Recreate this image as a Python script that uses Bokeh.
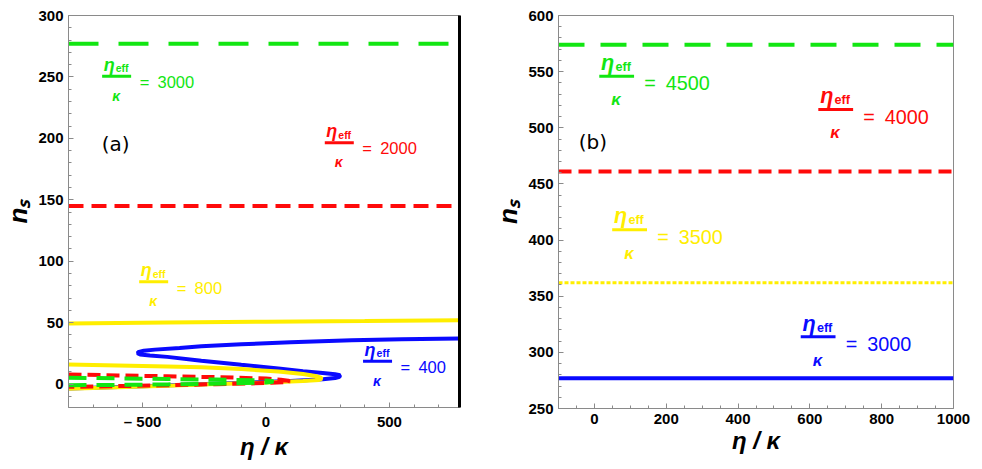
from bokeh.plotting import figure
from bokeh.layouts import row
from bokeh.models import Range1d, FixedTicker, LinearAxis
from bokeh.core.properties import value
from bokeh.embed import file_html
from bokeh.resources import INLINE

GREEN = "#12e612"
RED = "#ff0a0a"
YELLOW = "#ffee00"
BLUE = "#0a0aff"

# ---------------- panel (a) data ----------------
a_xlim = [-800, 784]
a_green_level = 277      # eta_eff/kappa = 3000
a_red_level = 145        # eta_eff/kappa = 2000

# eta_eff/kappa = 400 (S-curve)
a_blue_x = [784, 550, 347, 100, -100, -262, -350, -450, -495, -515, -521, -510, -470, -400,
            -262, -100, 50, 150, 230, 280, 300, 298, 280, 230, 100, -100, -300, -500, -800]
a_blue_y = [37.2, 36.6, 35.8, 34.0, 32.5, 30.8, 29.5, 28.1, 27.2, 26.3, 25.2, 24.2, 23.3, 22.2,
            19.0, 15.7, 12.7, 10.6, 9.0, 8.0, 7.2, 6.0, 5.0, 4.0, 2.6, 1.1, -0.3, -1.7, -3.5]

# eta_eff/kappa = 800
a_yellow_up_x = [-800, -400, 0, 400, 784]
a_yellow_up_y = [49.4, 50.1, 50.8, 51.4, 52.1]
a_yellow_x = [-800, -600, -400, -262, -100, 50, 150, 200, 222, 226, 215, 150, 0, -200, -400, -600, -800]
a_yellow_y = [16.0, 15.2, 14.4, 13.8, 12.3, 10.3, 8.3, 6.6, 5.3, 4.4, 3.4, 2.6, 1.4, 0.2, -1.2, -2.5, -3.7]

# eta_eff/kappa = 2000 (lower fold)
a_red_x = [-800, -600, -400, -200, 0, 60, 90, 96, 85, 0, -200, -400, -600, -800]
a_red_y = [7.9, 7.1, 6.4, 5.7, 4.6, 3.6, 2.8, 2.3, 1.7, 0.9, 0.0, -0.9, -1.6, -2.2]

# eta_eff/kappa = 3000 (lower fold)
a_green_x = [-800, -600, -400, -200, 0, 25, 30, 20, 0, -200, -400, -600, -800]
a_green_y = [5.2, 4.7, 4.2, 3.7, 3.0, 2.5, 2.1, 1.7, 1.4, 0.4, -0.2, -0.6, -0.9]

a_label_vals = ["3000", "2000", "800", "400"]
a_label_cols = [GREEN, RED, YELLOW, BLUE]
a_label_x = [-605, 297, -455, 452]
a_label_y = [250.6, 196.5, 83.3, 18.7]

# ---------------- panel (b) data ----------------
b_xlim = [-100, 1000]
b_levels = [574, 461, 362, 277]          # 4500, 4000, 3500, 3000
b_label_vals = ["4500", "4000", "3500", "3000"]
b_label_cols = [GREEN, RED, YELLOW, BLUE]
b_label_x = [62, 672, 98, 623]
b_label_y = [546, 516.2, 409.3, 313.8]

FONT = value("Liberation Sans")


def style(p):
    p.xgrid.visible = False
    p.ygrid.visible = False
    p.outline_line_color = "#8a8a8a"
    p.background_fill_color = "white"
    p.border_fill_color = "white"
    for ax in (p.xaxis[0], p.yaxis[0]):
        ax.axis_line_color = "#8a8a8a"
        ax.major_tick_line_color = "#8a8a8a"
        ax.minor_tick_line_color = "#8a8a8a"
        ax.major_tick_in = 5
        ax.major_tick_out = 0
        ax.minor_tick_in = 3
        ax.minor_tick_out = 0
        ax.major_label_text_font = "Liberation Sans"
        ax.major_label_text_font_style = "bold"
        ax.major_label_text_font_size = "15px"
        ax.major_label_text_color = "black"
        ax.axis_label_text_font = "Liberation Sans"
        ax.axis_label_text_font_style = "bold italic"
        ax.axis_label_text_color = "black"
    p.xaxis[0].major_label_standoff = 5
    p.yaxis[0].major_label_standoff = 5
    p.xaxis[0].axis_label = "η / κ"
    p.xaxis[0].axis_label_text_font_size = "24px"
    p.xaxis[0].axis_label_standoff = 0
    p.yaxis[0].axis_label = "nₛ"
    p.yaxis[0].axis_label_text_font_size = "26px"
    p.yaxis[0].axis_label_standoff = 2


def frac_labels(p, xs, ys, vals, cols, s):
    n = len(xs)
    p.rect(x=xs, y=ys, width=29 * s, height=3, width_units="screen", height_units="screen",
           fill_color=cols, line_color=None)
    p.text(x=xs, y=ys, text=["η"] * n, x_offset=-2 * s, y_offset=-11.5 * s,
           text_align="right", text_baseline="middle", text_font=FONT,
           text_font_style="bold italic", text_font_size=f"{18 * s:.1f}px", text_color=cols)
    p.text(x=xs, y=ys, text=["eff"] * n, x_offset=-1 * s, y_offset=-7.8 * s,
           text_align="left", text_baseline="middle", text_font=FONT,
           text_font_style="bold", text_font_size=f"{10.5 * s:.1f}px", text_color=cols)
    p.text(x=xs, y=ys, text=["κ"] * n, x_offset=-0.5 * s, y_offset=19.5 * s,
           text_align="center", text_baseline="middle", text_font=FONT,
           text_font_style="bold italic", text_font_size=f"{14 * s:.1f}px", text_color=cols)
    p.text(x=xs, y=ys, text=["=\u2002" + v for v in vals], x_offset=23 * s, y_offset=5.8 * s,
           text_align="left", text_baseline="middle", text_font=FONT,
           text_font_style="normal", text_font_size=f"{16.5 * s:.1f}px", text_color=cols)


# ---------------- panel (a) ----------------
pa = figure(x_range=Range1d(-800, 784), y_range=Range1d(-19, 300),
            frame_width=391, frame_height=392,
            min_border_left=68, min_border_right=31, min_border_top=15, min_border_bottom=62,
            output_backend="svg", toolbar_location=None)
style(pa)
pa.xaxis[0].ticker = FixedTicker(ticks=[-500, 0, 500],
                                 minor_ticks=[-700, -600, -400, -300, -200, -100, 100, 200, 300, 400, 600, 700])
pa.xaxis[0].major_label_overrides = {-500: "– 500"}
pa.yaxis[0].ticker = FixedTicker(ticks=[0, 50, 100, 150, 200, 250, 300],
                                 minor_ticks=[v for v in range(-10, 300, 10) if v % 50 != 0])

pa.line(a_xlim, [a_green_level] * 2, line_color=GREEN, line_width=4, line_dash="30 20")
pa.line(a_xlim, [a_red_level] * 2, line_color=RED, line_width=4, line_dash="15 8")
pa.line(a_blue_x, a_blue_y, line_color=BLUE, line_width=4)
pa.line(a_yellow_up_x, a_yellow_up_y, line_color=YELLOW, line_width=4)
pa.line(a_yellow_x, a_yellow_y, line_color=YELLOW, line_width=4)
pa.line(a_red_x, a_red_y, line_color=RED, line_width=4, line_dash="13 6")
pa.line(a_green_x, a_green_y, line_color=GREEN, line_width=4, line_dash="18 10")

frac_labels(pa, a_label_x, a_label_y, a_label_vals, a_label_cols, 1.0)
pa.text(x=[-609], y=[195.6], text=["(a)"], text_align="center", text_baseline="middle",
        text_font=value("DejaVu Sans"), text_font_size="20px", text_color="black")

right_edge = LinearAxis(axis_line_color="black", axis_line_width=3,
                        major_tick_line_color=None, minor_tick_line_color=None,
                        major_label_text_font_size="0px", ticker=FixedTicker(ticks=[]))
pa.add_layout(right_edge, "right")

# ---------------- panel (b) ----------------
pb = figure(x_range=Range1d(-100, 1000), y_range=Range1d(250, 600),
            frame_width=395, frame_height=393,
            min_border_left=67, min_border_right=30, min_border_top=13, min_border_bottom=63,
            output_backend="svg", toolbar_location=None)
style(pb)
pb.xaxis[0].ticker = FixedTicker(ticks=[0, 200, 400, 600, 800, 1000],
                                 minor_ticks=[-50, 50, 100, 150, 250, 300, 350, 450, 500, 550,
                                              650, 700, 750, 850, 900, 950])
pb.yaxis[0].ticker = FixedTicker(ticks=[250, 300, 350, 400, 450, 500, 550, 600],
                                 minor_ticks=[v for v in range(250, 600, 10) if v % 50 != 0])

pb.line(b_xlim, [b_levels[0]] * 2, line_color=GREEN, line_width=4, line_dash="26 16")
pb.line(b_xlim, [b_levels[1]] * 2, line_color=RED, line_width=4, line_dash="13 7")
pb.line(b_xlim, [b_levels[2]] * 2, line_color=YELLOW, line_width=3, line_dash="4 2")
pb.line(b_xlim, [b_levels[3]] * 2, line_color=BLUE, line_width=4)

frac_labels(pb, b_label_x, b_label_y, b_label_vals, b_label_cols, 1.2)
pb.text(x=[-4.4], y=[487.3], text=["(b)"], text_align="center", text_baseline="middle",
        text_font=value("DejaVu Sans"), text_font_size="20px", text_color="black")

layout = row(pa, pb)
open("out.html", "w").write(file_html(layout, INLINE))
